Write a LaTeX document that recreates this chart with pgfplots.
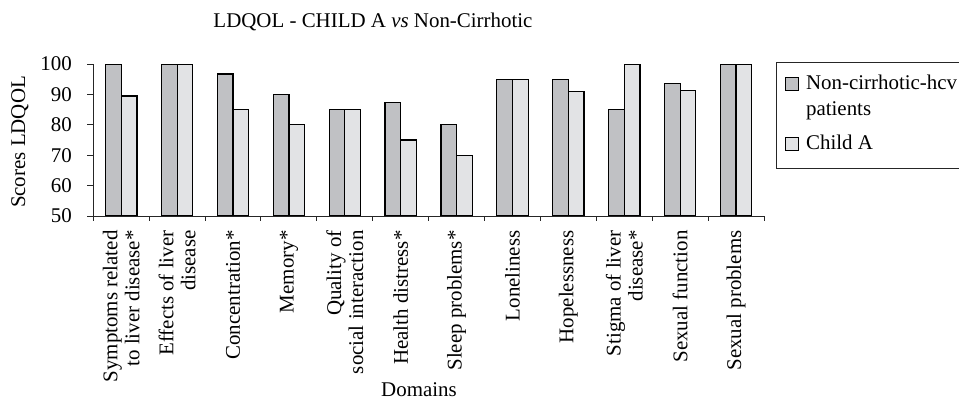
\documentclass[border=0pt]{standalone}
\usepackage{fontspec}
\setmainfont{Liberation Serif}
\usepackage{pgfplots}
\pgfplotsset{compat=1.18}
\definecolor{barA}{RGB}{192,193,196}
\definecolor{barB}{RGB}{226,227,229}
\pgfplotsset{
  legA/.style={legend image code/.code={\draw[##1, line width=1bp] (0bp,25.5bp) rectangle (13bp,38.5bp);}},
  legB/.style={legend image code/.code={\draw[##1, line width=1bp] (0bp,-0.5bp) rectangle (13bp,12.5bp); \path (0bp,-10bp);}},
}
\begin{document}
\begin{tikzpicture}
\begin{axis}[
 at={(93.3bp,185bp)}, anchor=south west,
 scale only axis, width=670.7bp, height=152bp,
 ybar=0pt, bar width=15.7bp,
 xmin=-0.5, xmax=11.5, ymin=50, ymax=100,
 axis x line=bottom, axis y line=left,
 axis line style={-, line width=1bp, black!85},
 xtick={0,...,11},
 major x tick style={draw=none},
 minor xtick={-0.5,0.5,...,11.5},
 ytick={50,60,...,100},
 tick align=outside, major tick length=6bp, minor tick length=5bp,
 tick style={line width=1bp, black!85},
 /pgf/number format/assume math mode=true,
 xticklabels={{Symptoms related\\to liver disease*},{Effects of liver\\disease},{Concentration*},{Memory*},{Quality of\\social interaction},{Health distress*},{Sleep problems*},{Loneliness},{Hopelessness},{Stigma of liver\\disease*},{Sexual function},{Sexual problems}},
 xticklabel style={yshift=-5bp, rotate=90, anchor=east, align=right, font=\fontsize{21}{22}\selectfont},
 yticklabel style={xshift=-12bp, font=\fontsize{21}{22}\selectfont},
 every axis title shift=0pt,
 title={LDQOL - CHILD A \textit{vs} Non-Cirrhotic},
 title style={at={(axis description cs:0.417,1.239)}, anchor=base, font=\fontsize{21}{22}\selectfont},
 xlabel={Domains},
 xlabel style={at={(axis description cs:0.4856,-1.189)}, anchor=base, font=\fontsize{21}{22}\selectfont},
 ylabel={Scores LDQOL},
 ylabel style={at={(axis description cs:-0.1018,0.487)}, anchor=base, font=\fontsize{21}{22}\selectfont},
 legend style={at={(axis description cs:1.0179,1.015)}, anchor=north west, draw=black!85, line width=1bp,
   font=\fontsize{21}{26}\selectfont, cells={anchor=base west, align=left}, row sep=14bp, column sep=5bp, inner xsep=8.5bp, inner ysep=8bp},
]
\addplot[draw=black, line width=1.2bp, fill=barA, legA]
  coordinates {(0,100) (1,100) (2,96.7) (3,90) (4,85) (5,87.4) (6,80) (7,95) (8,95) (9,85) (10,93.5) (11,100)};
\addplot[draw=black, line width=1.2bp, fill=barB, legB]
  coordinates {(0,89.5) (1,100) (2,85) (3,80) (4,85) (5,75) (6,70) (7,95) (8,91) (9,100) (10,91.4) (11,100)};
\legend{{\rule{0pt}{17.5bp}Non-cirrhotic-hcv\\patients},{Child A}}
\end{axis}
\pgfresetboundingbox
\path[use as bounding box] (0,0) rectangle (959bp,401bp);
\end{tikzpicture}
\end{document}
